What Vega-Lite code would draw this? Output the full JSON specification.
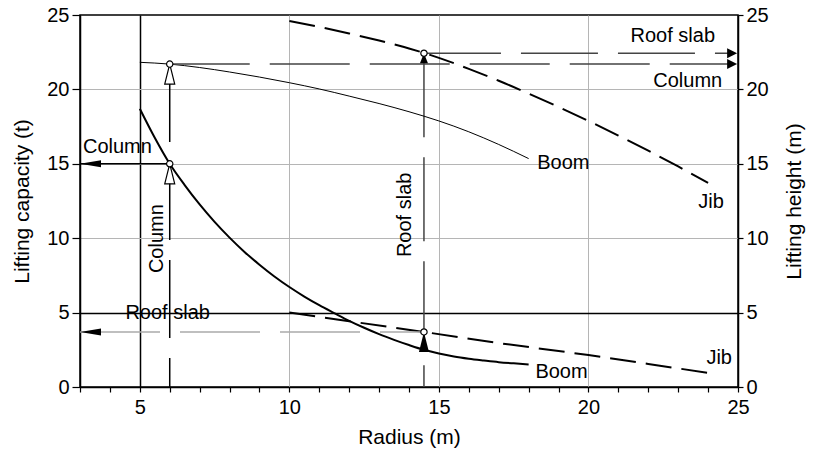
{
  "$schema": "https://vega.github.io/schema/vega-lite/v6.json",
  "width": 658,
  "height": 372,
  "autosize": {"type": "none"},
  "padding": {"left": 80, "top": 15, "right": 75, "bottom": 64},
  "background": "white",
  "config": {
    "font": "Liberation Sans",
    "view": {"stroke": "black", "strokeWidth": 1.5},
    "axis": {
      "domainColor": "black", "domainWidth": 1.5, "tickColor": "black", "tickWidth": 1.2,
      "labelColor": "black", "labelFontSize": 20, "labelFont": "Liberation Sans",
      "titleFont": "Liberation Sans", "titleFontSize": 21, "titleFontWeight": "normal", "titleColor": "black"
    },
    "text": {"font": "Liberation Sans"}
  },
  "datasets": {
    "capBoom": [
      {"x": 5, "y": 18.7}, {"x": 5.5, "y": 16.75}, {"x": 6, "y": 15.0}, {"x": 6.5, "y": 13.57},
      {"x": 7, "y": 12.27}, {"x": 7.5, "y": 11.1}, {"x": 8, "y": 10.04}, {"x": 8.5, "y": 9.08},
      {"x": 9, "y": 8.22}, {"x": 9.5, "y": 7.43}, {"x": 10, "y": 6.72}, {"x": 10.5, "y": 6.08},
      {"x": 11, "y": 5.5}, {"x": 11.5, "y": 4.97}, {"x": 12, "y": 4.45}, {"x": 12.5, "y": 3.98},
      {"x": 13, "y": 3.55}, {"x": 13.5, "y": 3.17}, {"x": 14, "y": 2.82}, {"x": 14.5, "y": 2.5},
      {"x": 15, "y": 2.25}, {"x": 15.5, "y": 2.05}, {"x": 16, "y": 1.9}, {"x": 16.5, "y": 1.78},
      {"x": 17, "y": 1.67}, {"x": 17.5, "y": 1.59}, {"x": 18, "y": 1.52}
    ],
    "capJib": [
      {"x": 10, "y": 5.0}, {"x": 12, "y": 4.42}, {"x": 14.5, "y": 3.7}, {"x": 17, "y": 2.95},
      {"x": 20, "y": 2.15}, {"x": 22, "y": 1.55}, {"x": 24, "y": 0.95}
    ],
    "htBoom": [
      {"x": 5, "y": 21.82}, {"x": 6, "y": 21.7}, {"x": 7, "y": 21.47}, {"x": 8, "y": 21.17},
      {"x": 9, "y": 20.83}, {"x": 10, "y": 20.45}, {"x": 11, "y": 20.03}, {"x": 12, "y": 19.55},
      {"x": 13, "y": 19.05}, {"x": 14, "y": 18.5}, {"x": 14.5, "y": 18.2}, {"x": 15, "y": 17.88},
      {"x": 16, "y": 17.15}, {"x": 17, "y": 16.3}, {"x": 18, "y": 15.35}
    ],
    "htJib": [
      {"x": 10, "y": 24.6}, {"x": 11, "y": 24.2}, {"x": 12, "y": 23.76}, {"x": 13, "y": 23.28},
      {"x": 14, "y": 22.75}, {"x": 14.5, "y": 22.45}, {"x": 15, "y": 22.12}, {"x": 16, "y": 21.38},
      {"x": 17, "y": 20.58}, {"x": 18, "y": 19.72}, {"x": 19, "y": 18.82}, {"x": 20, "y": 17.88},
      {"x": 21, "y": 16.9}, {"x": 22, "y": 15.88}, {"x": 23, "y": 14.82}, {"x": 24, "y": 13.72}
    ],
    "colCapRule": [{"x": 3, "x2": 6, "y": 15}],
    "roofCapRule": [{"x": 3, "x2": 14.5, "y": 3.7}],
    "colVert": [{"x": 6, "y": 21.7, "y2": 0}],
    "roofVert": [{"x": 14.5, "y": 22.43, "y2": 0}],
    "colHt": [{"x": 6, "x2": 24.9, "y": 21.7}],
    "roofHt": [{"x": 14.5, "x2": 24.9, "y": 22.43}],
    "capLabels": [
      {"x": 4.25, "y": 16.12, "label": "Column"},
      {"x": 5.93, "y": 4.97, "label": "Roof slab"},
      {"x": 19.1, "y": 1.04, "label": "Boom"},
      {"x": 24.37, "y": 1.95, "label": "Jib"}
    ],
    "rotLabels": [
      {"x": 5.59, "y": 9.97, "label": "Column"},
      {"x": 13.87, "y": 11.57, "label": "Roof slab"}
    ],
    "htLabels": [
      {"x": 19.16, "y": 15.04, "label": "Boom"},
      {"x": 24.1, "y": 12.44, "label": "Jib"},
      {"x": 22.82, "y": 23.57, "label": "Roof slab"},
      {"x": 23.32, "y": 20.55, "label": "Column"}
    ],
    "leftArrows": [{"x": 3, "y": 15}, {"x": 3, "y": 3.7}],
    "upOpen": [{"x": 6, "y": 15}, {"x": 6, "y": 21.7}],
    "upFilledBig": [{"x": 14.5, "y": 3.7}],
    "upFilledSmall": [{"x": 14.5, "y": 22.43}],
    "rightArrows": [{"x": 24.97, "y": 21.7}, {"x": 24.97, "y": 22.43}],
    "capCircles": [{"x": 6, "y": 15}, {"x": 14.5, "y": 3.7}],
    "htCircles": [{"x": 6, "y": 21.7}, {"x": 14.5, "y": 22.43}]
  },
  "layer": [
    {
      "layer": [
        {
          "data": {"name": "capBoom"},
          "mark": {"type": "line", "color": "black", "strokeWidth": 2, "interpolate": "monotone"},
          "encoding": {
            "x": {
              "field": "x", "type": "quantitative",
              "scale": {"domain": [3, 25], "nice": false, "zero": false},
              "axis": {
                "title": "Radius (m)",
                "values": [3,4,5,6,7,8,9,10,11,12,13,14,15,16,17,18,19,20,21,22,23,24,25],
                "tickCount": 40, "format": "d",
                "labelExpr": "indexof([5,10,15,20,25], datum.value) >= 0 ? datum.label : ''",
                "labelOverlap": false, "labelFlush": false, "labelBound": false,
                "tickSize": 5, "labelPadding": 5,
                "grid": true,
                "gridColor": {"condition": {"test": "datum.value === 5", "value": "black"}, "value": "#b5b5b5"},
                "gridWidth": {"condition": {"test": "datum.value === 5", "value": 1.5}, "value": 1},
                "gridOpacity": {"condition": {"test": "indexof([5,10,15,20], datum.value) >= 0", "value": 1}, "value": 0},
                "titleY": 50, "titleBaseline": "middle"
              }
            },
            "y": {
              "field": "y", "type": "quantitative",
              "scale": {"domain": [0, 25], "nice": false},
              "axis": {
                "title": "Lifting capacity (t)",
                "values": [0, 5, 10, 15, 20, 25],
                "tickSize": 8, "labelPadding": 3,
                "grid": true,
                "gridColor": {"condition": {"test": "datum.value === 5", "value": "black"}, "value": "#b5b5b5"},
                "gridWidth": {"condition": {"test": "datum.value === 5", "value": 1.5}, "value": 1},
                "gridOpacity": {"condition": {"test": "datum.value > 0 && datum.value < 25", "value": 1}, "value": 0},
                "titleX": -57.5, "titleY": 186, "titleAngle": 270, "titleAlign": "center", "titleBaseline": "middle"
              }
            }
          }
        },
        {
          "data": {"name": "capJib"},
          "mark": {"type": "line", "color": "black", "strokeWidth": 2, "strokeDash": [26, 10]},
          "encoding": {
            "x": {"field": "x", "type": "quantitative"},
            "y": {"field": "y", "type": "quantitative"}
          }
        },
        {
          "data": {"name": "roofCapRule"},
          "mark": {"type": "rule", "color": "#aaaaaa", "strokeWidth": 1.5, "strokeDash": [80, 20]},
          "encoding": {
            "x": {"field": "x", "type": "quantitative"},
            "x2": {"field": "x2"},
            "y": {"field": "y", "type": "quantitative"}
          }
        },
        {
          "data": {"name": "colCapRule"},
          "mark": {"type": "rule", "color": "black", "strokeWidth": 1.5},
          "encoding": {
            "x": {"field": "x", "type": "quantitative"},
            "x2": {"field": "x2"},
            "y": {"field": "y", "type": "quantitative"}
          }
        },
        {
          "data": {"name": "colVert"},
          "mark": {"type": "rule", "color": "black", "strokeWidth": 1.5, "strokeDash": [78, 20]},
          "encoding": {
            "x": {"field": "x", "type": "quantitative"},
            "y": {"field": "y", "type": "quantitative"},
            "y2": {"field": "y2"}
          }
        },
        {
          "data": {"name": "roofVert"},
          "mark": {"type": "rule", "color": "#444444", "strokeWidth": 1.5, "strokeDash": [84, 20]},
          "encoding": {
            "x": {"field": "x", "type": "quantitative"},
            "y": {"field": "y", "type": "quantitative"},
            "y2": {"field": "y2"}
          }
        },
        {
          "data": {"name": "capLabels"},
          "mark": {"type": "text", "fontSize": 20, "color": "black", "align": "center", "baseline": "middle"},
          "encoding": {
            "x": {"field": "x", "type": "quantitative"},
            "y": {"field": "y", "type": "quantitative"},
            "text": {"field": "label"}
          }
        },
        {
          "data": {"name": "rotLabels"},
          "mark": {"type": "text", "fontSize": 20, "color": "black", "align": "center", "baseline": "middle", "angle": 270},
          "encoding": {
            "x": {"field": "x", "type": "quantitative"},
            "y": {"field": "y", "type": "quantitative"},
            "text": {"field": "label"}
          }
        },
        {
          "data": {"name": "leftArrows"},
          "mark": {"type": "point", "shape": "M0,0L2,-0.33L2,0.33Z", "size": 441, "filled": true, "color": "black", "opacity": 1, "strokeWidth": 0},
          "encoding": {
            "x": {"field": "x", "type": "quantitative"},
            "y": {"field": "y", "type": "quantitative"}
          }
        },
        {
          "data": {"name": "upOpen"},
          "mark": {"type": "point", "shape": "M0,0L0.5,2L-0.5,2Z", "size": 400, "filled": true, "fill": "white", "stroke": "black", "strokeWidth": 1.2, "opacity": 1},
          "encoding": {
            "x": {"field": "x", "type": "quantitative"},
            "y": {"field": "y", "type": "quantitative"}
          }
        },
        {
          "data": {"name": "upFilledBig"},
          "mark": {"type": "point", "shape": "M0,0L0.5,2L-0.5,2Z", "size": 400, "filled": true, "color": "black", "opacity": 1, "strokeWidth": 0},
          "encoding": {
            "x": {"field": "x", "type": "quantitative"},
            "y": {"field": "y", "type": "quantitative"}
          }
        },
        {
          "data": {"name": "capCircles"},
          "mark": {"type": "point", "shape": "circle", "size": 40, "filled": true, "fill": "white", "stroke": "black", "strokeWidth": 1.2, "opacity": 1},
          "encoding": {
            "x": {"field": "x", "type": "quantitative"},
            "y": {"field": "y", "type": "quantitative"}
          }
        }
      ]
    },
    {
      "layer": [
        {
          "data": {"name": "htBoom"},
          "mark": {"type": "line", "color": "black", "strokeWidth": 1, "interpolate": "monotone"},
          "encoding": {
            "x": {
              "field": "x", "type": "quantitative",
              "axis": {
                "title": "Radius (m)",
                "values": [3,4,5,6,7,8,9,10,11,12,13,14,15,16,17,18,19,20,21,22,23,24,25],
                "tickCount": 40, "format": "d",
                "labelExpr": "indexof([5,10,15,20,25], datum.value) >= 0 ? datum.label : ''",
                "labelOverlap": false, "labelFlush": false, "labelBound": false,
                "tickSize": 5, "labelPadding": 5,
                "grid": true,
                "gridColor": {"condition": {"test": "datum.value === 5", "value": "black"}, "value": "#b5b5b5"},
                "gridWidth": {"condition": {"test": "datum.value === 5", "value": 1.5}, "value": 1},
                "gridOpacity": {"condition": {"test": "indexof([5,10,15,20], datum.value) >= 0", "value": 1}, "value": 0},
                "titleY": 50, "titleBaseline": "middle"
              }
            },
            "y": {
              "field": "y", "type": "quantitative",
              "scale": {"domain": [0, 25], "nice": false},
              "axis": {
                "title": "Lifting height (m)", "orient": "right",
                "values": [0, 5, 10, 15, 20, 25],
                "tickSize": 5, "labelPadding": 3, "grid": false,
                "titleX": 56, "titleY": 186, "titleAngle": 270, "titleAlign": "center", "titleBaseline": "middle"
              }
            }
          }
        },
        {
          "data": {"name": "htJib"},
          "mark": {"type": "line", "color": "black", "strokeWidth": 2, "strokeDash": [26, 10], "interpolate": "monotone"},
          "encoding": {
            "x": {"field": "x", "type": "quantitative"},
            "y": {"field": "y", "type": "quantitative"}
          }
        },
        {
          "data": {"name": "colHt"},
          "mark": {"type": "rule", "color": "#444444", "strokeWidth": 1.5, "strokeDash": [80, 20]},
          "encoding": {
            "x": {"field": "x", "type": "quantitative"},
            "x2": {"field": "x2"},
            "y": {"field": "y", "type": "quantitative"}
          }
        },
        {
          "data": {"name": "roofHt"},
          "mark": {"type": "rule", "color": "#444444", "strokeWidth": 1.5, "strokeDash": [77, 20]},
          "encoding": {
            "x": {"field": "x", "type": "quantitative"},
            "x2": {"field": "x2"},
            "y": {"field": "y", "type": "quantitative"}
          }
        },
        {
          "data": {"name": "htLabels"},
          "mark": {"type": "text", "fontSize": 20, "color": "black", "align": "center", "baseline": "middle"},
          "encoding": {
            "x": {"field": "x", "type": "quantitative"},
            "y": {"field": "y", "type": "quantitative"},
            "text": {"field": "label"}
          }
        },
        {
          "data": {"name": "upFilledSmall"},
          "mark": {"type": "point", "shape": "M0,0L0.4,1L-0.4,1Z", "size": 400, "filled": true, "color": "black", "opacity": 1, "strokeWidth": 0},
          "encoding": {
            "x": {"field": "x", "type": "quantitative"},
            "y": {"field": "y", "type": "quantitative"}
          }
        },
        {
          "data": {"name": "rightArrows"},
          "mark": {"type": "point", "shape": "M0,0L-1,-0.5L-1,0.5Z", "size": 400, "filled": true, "color": "black", "opacity": 1, "strokeWidth": 0},
          "encoding": {
            "x": {"field": "x", "type": "quantitative"},
            "y": {"field": "y", "type": "quantitative"}
          }
        },
        {
          "data": {"name": "htCircles"},
          "mark": {"type": "point", "shape": "circle", "size": 40, "filled": true, "fill": "white", "stroke": "black", "strokeWidth": 1.2, "opacity": 1},
          "encoding": {
            "x": {"field": "x", "type": "quantitative"},
            "y": {"field": "y", "type": "quantitative"}
          }
        }
      ]
    }
  ],
  "resolve": {"scale": {"y": "independent"}}
}
